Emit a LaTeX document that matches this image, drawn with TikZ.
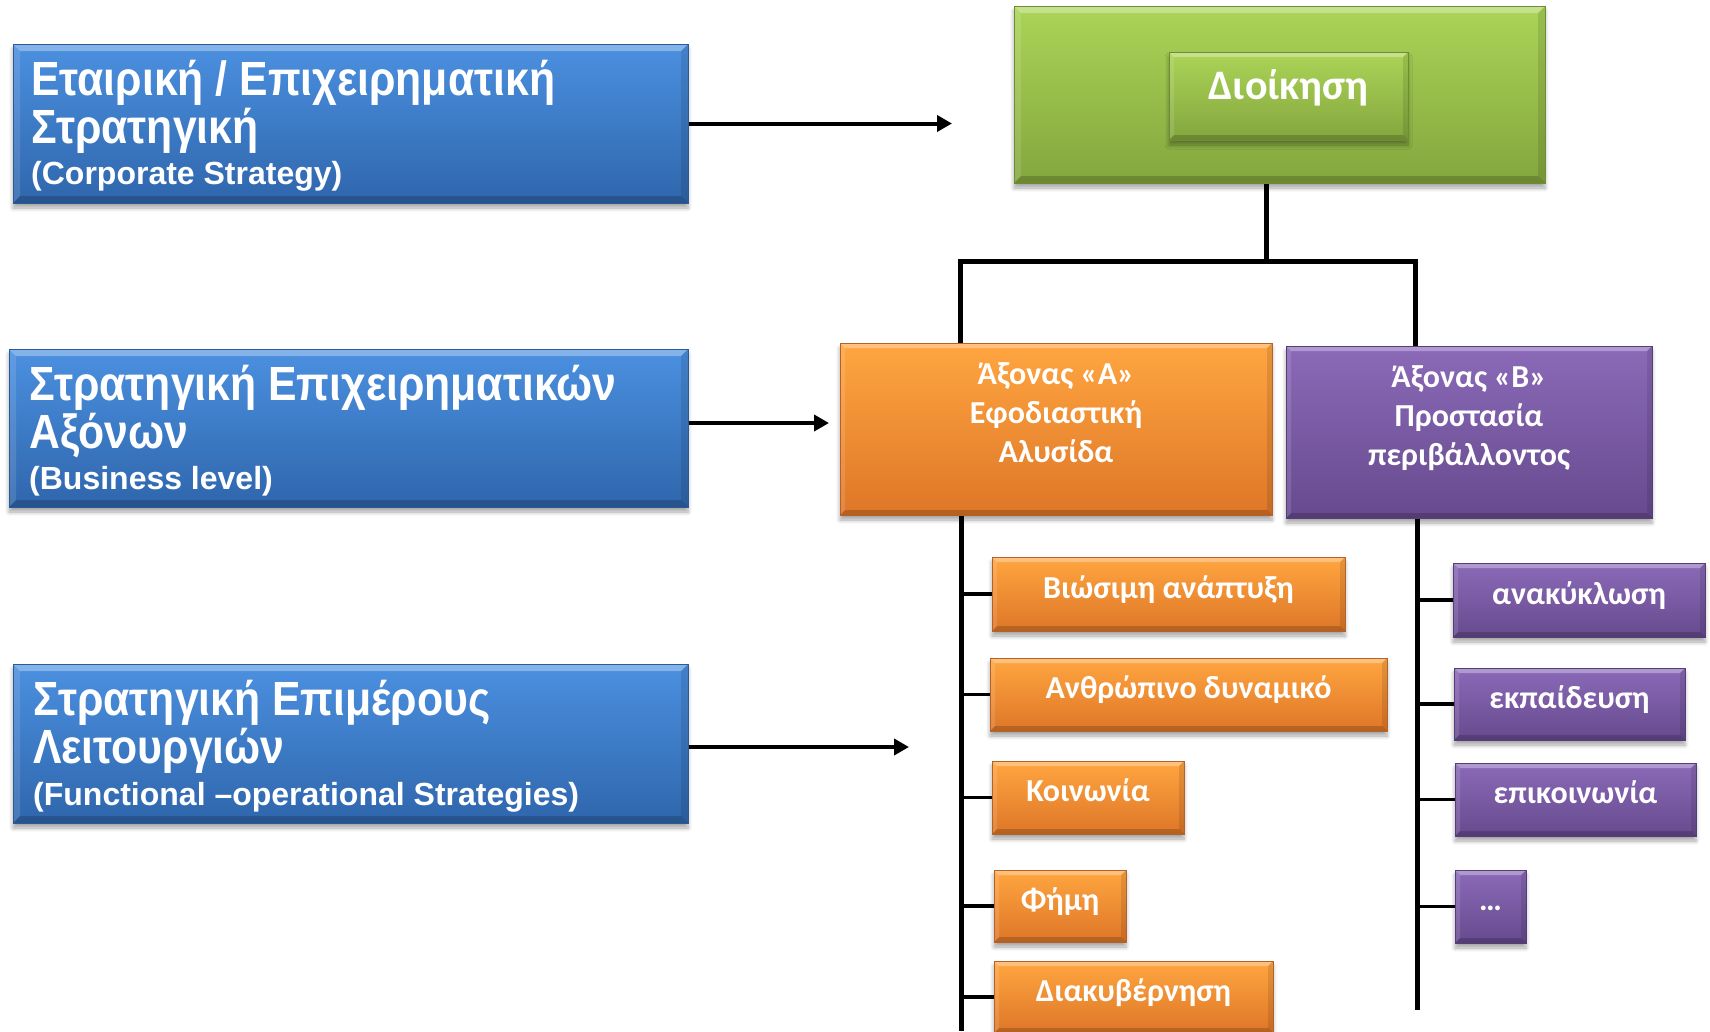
\documentclass[tikz,border=0pt]{standalone}
\usepackage{fontspec}
\newfontfamily\arialfont{Liberation Sans}
\newfontfamily\arialnarrow[FakeStretch=0.89]{Liberation Sans}
\newfontfamily\calfont{Carlito}
\usetikzlibrary{arrows.meta,shadows.blur,calc}

\definecolor{bluetop}{HTML}{4B90E0}
\definecolor{bluebot}{HTML}{2F66AC}
\definecolor{blueedge}{HTML}{2A5A98}
\definecolor{orgtop}{HTML}{FFA640}
\definecolor{orgbot}{HTML}{DE7628}
\definecolor{orgedge}{HTML}{B5622A}
\definecolor{purtop}{HTML}{8B6AB8}
\definecolor{purbot}{HTML}{664A8E}
\definecolor{puredge}{HTML}{553E78}
\definecolor{grntop}{HTML}{ABD457}
\definecolor{grnbot}{HTML}{84A63E}
\definecolor{grnedge}{HTML}{6E8C35}

\tikzset{
  bevel/.style={path picture={
    \coordinate (bvA) at (path picture bounding box.north west);
    \coordinate (bvB) at (path picture bounding box.north east);
    \coordinate (bvC) at (path picture bounding box.south east);
    \coordinate (bvD) at (path picture bounding box.south west);
    \fill[white,opacity=.32] (bvA) -- (bvB) -- ([shift={(-#1,-#1)}]bvB) -- ([shift={(#1,-#1)}]bvA) -- cycle;
    \fill[black,opacity=.18] (bvD) -- (bvC) -- ([shift={(-#1,#1)}]bvC) -- ([shift={(#1,#1)}]bvD) -- cycle;
    \fill[white,opacity=.12] (bvA) -- (bvD) -- ([shift={(#1,#1)}]bvD) -- ([shift={(#1,-#1)}]bvA) -- cycle;
    \fill[black,opacity=.10] (bvB) -- (bvC) -- ([shift={(-#1,#1)}]bvC) -- ([shift={(-#1,-#1)}]bvB) -- cycle;
  }},
  box/.style={draw, line width=1pt, inner sep=0pt,
    blur shadow={shadow xshift=0pt, shadow yshift=-5pt, shadow blur steps=6,
                 shadow opacity=35, shadow blur radius=4pt}},
  bluebox/.style={box, draw=blueedge, top color=bluetop, bottom color=bluebot, bevel=7pt},
  orgbox/.style={box, draw=orgedge, top color=orgtop, bottom color=orgbot, bevel=5pt},
  purbox/.style={box, draw=puredge, top color=purtop, bottom color=purbot, bevel=5pt},
  grnbox/.style={box, draw=grnedge, top color=grntop, bottom color=grnbot, bevel=7pt},
  subtxt/.style={font=\calfont\bfseries\fontsize{32}{38}\selectfont, text=white,
    text height=21pt, text depth=13pt},
  bigtxt/.style={font=\arialnarrow\bfseries\fontsize{48}{54}\selectfont, text=white,
    inner sep=0pt, anchor=base west},
  smtxt/.style={font=\arialfont\bfseries\fontsize{32}{38}\selectfont, text=white,
    inner sep=0pt, anchor=base west},
  axtxt/.style={font=\calfont\bfseries\fontsize{32}{38}\selectfont, text=white,
    inner sep=0pt, anchor=base},
  tree/.style={line width=5pt},
  stub/.style={line width=3.5pt},
  arr/.style={line width=4pt, -{Triangle[length=15pt,width=16pt]}},
}

\begin{document}
\begin{tikzpicture}[x=1pt,y=-1pt]
\useasboundingbox (0,0) rectangle (1710,1031);

% blue strategy boxes
\node[bluebox, minimum width=675, minimum height=159] (corp) at (350.5,123.5) {};
\node[bluebox, minimum width=679, minimum height=158] (bus) at (348.5,428) {};
\node[bluebox, minimum width=675, minimum height=159] (func) at (350.5,743.5) {};

\node[bigtxt] (corpA) at (31,95) {Εταιρική / Επιχειρηματική};
\node[bigtxt] (corpB) at (31,143) {Στρατηγική};
\node[smtxt] (corpC) at (31,184) {(Corporate Strategy)};

\node[bigtxt] (busA) at (29,400) {Στρατηγική Επιχειρηματικών};
\node[bigtxt] (busB) at (29,448) {Αξόνων};
\node[smtxt] (busC) at (29,489) {(Business level)};

\node[bigtxt] (funcA) at (33,715) {Στρατηγική Επιμέρους};
\node[bigtxt] (funcB) at (33,763) {Λειτουργιών};
\node[smtxt] (funcC) at (33,805) {(Functional –operational Strategies)};

% management
\node[grnbox, minimum width=531, minimum height=177] (outer) at (1279.5,94.5) {};
\node[grnbox, bevel=5pt, minimum width=239, minimum height=88,
      font=\calfont\bfseries\fontsize{42}{48}\selectfont, text=white,
      text height=28pt, text depth=22pt] (mgmt) at (1288.5,96) {Διοίκηση};

% axes
\node[orgbox, minimum width=432, minimum height=172] (axA) at (1056,429) {};
\node[purbox, minimum width=366, minimum height=172] (axB) at (1469,432) {};

\node[axtxt] (axA1) at (1056,384) {Άξονας «Α»};
\node[axtxt] (axA2) at (1056,423) {Εφοδιαστική};
\node[axtxt] (axA3) at (1056,462) {Αλυσίδα};
\node[axtxt] (axB1) at (1469,387) {Άξονας «Β»};
\node[axtxt] (axB2) at (1469,426) {Προστασία};
\node[axtxt] (axB3) at (1469,465) {περιβάλλοντος};

% sub boxes
\node[orgbox, subtxt, minimum width=353, minimum height=74] (s1) at (1168.5,594) {Βιώσιμη ανάπτυξη};
\node[orgbox, subtxt, minimum width=397, minimum height=73] (s2) at (1188.5,694.5) {Ανθρώπινο δυναμικό};
\node[orgbox, subtxt, minimum width=192, minimum height=73] (s3) at (1088,797.5) {Κοινωνία};
\node[orgbox, subtxt, minimum width=132, minimum height=72] (s4) at (1060,906) {Φήμη};
\node[orgbox, subtxt, minimum width=279, minimum height=72] (s5) at (1133.5,997) {Διακυβέρνηση};

\node[purbox, subtxt, minimum width=252, minimum height=74] (r1) at (1579,600) {ανακύκλωση};
\node[purbox, subtxt, minimum width=231, minimum height=72] (r2) at (1569.5,704) {εκπαίδευση};
\node[purbox, subtxt, minimum width=241, minimum height=73] (r3) at (1575.5,799.5) {επικοινωνία};
\node[purbox, subtxt, minimum width=71, minimum height=73] (r4) at (1490.5,906.5) {…};

% arrows
\coordinate (a1end) at (952,123.5);
\coordinate (a2end) at (829,423);
\coordinate (a3end) at (909,747);
\draw[arr] (corp.east) -- (a1end);
\draw[arr] (bus.east |- a2end) -- (a2end);
\draw[arr] (func.east |- a3end) -- (a3end);

% tree
\coordinate (jM) at (1266,261);
\coordinate (jA) at (960,261);
\coordinate (jB) at (1415,261);
\draw[tree] (outer.south -| jM) -- (jM);
\draw[tree] (axA.north -| jA) -- (jA) -- (jB) -- (axB.north -| jB);
\coordinate (tA) at (961,1031);
\coordinate (tB) at (1417,1010);
\draw[tree] (axA.south -| tA) -- (tA);
\draw[tree] (axB.south -| tB) -- (tB);
\foreach \n in {s1,s2,s3,s4,s5} \draw[stub] (\n.west -| tA) -- (\n.west);
\foreach \n in {r1,r2,r3,r4} \draw[stub] (\n.west -| tB) -- (\n.west);
\end{tikzpicture}
\end{document}
